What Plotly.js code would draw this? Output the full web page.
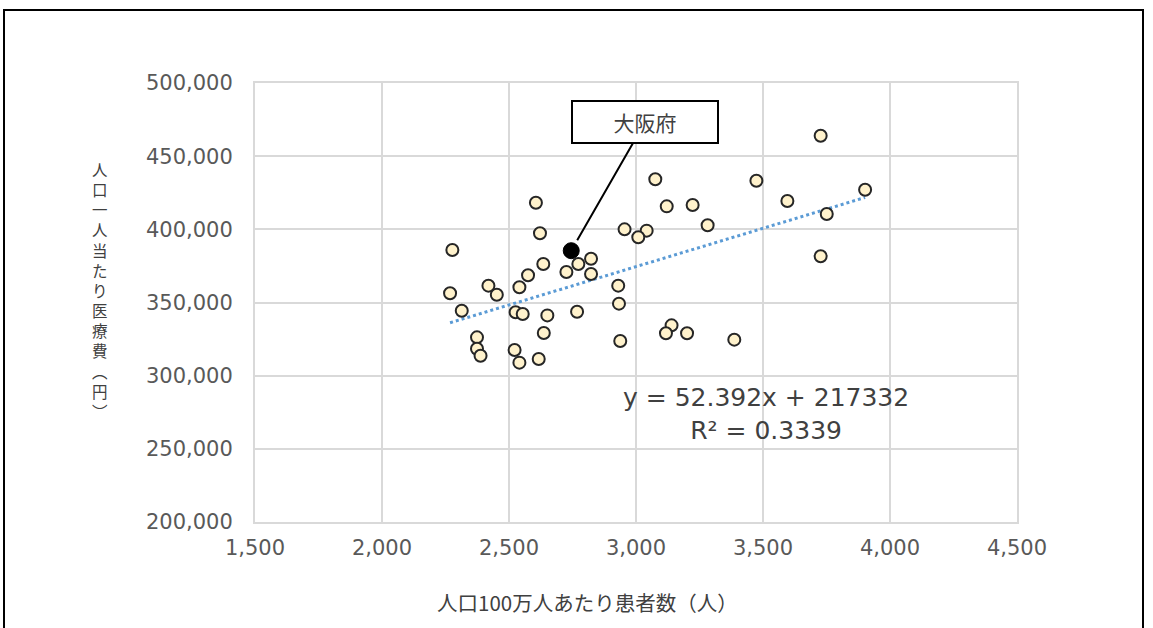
<!DOCTYPE html>
<html><head><meta charset="utf-8">
<script src="https://cdn.plot.ly/plotly-3.0.1.min.js"></script>
<style>
html,body{margin:0;padding:0;background:#fff;overflow:hidden}
#chart{position:absolute;left:0;top:0;width:1153px;height:628px}
#frame{position:absolute;left:3px;top:9px;width:1137px;height:640px;border:2px solid #000;pointer-events:none}
</style></head><body>
<div id="chart"></div><div id="frame"></div>
<script>
// 人口100万人あたり患者数（人）
const patients = [2606, 2622, 2277, 2635, 2773, 2823, 2726, 2823, 2575, 2541,
  2419, 2452, 2268, 2314, 2930, 2933, 2526, 2554, 2651, 2768,
  2637, 2374, 2374, 2388, 2522, 2541, 2617, 2938, 3727, 3076,
  3474, 3121, 3223, 3596, 3902, 3751, 3282, 2955, 3042, 3009,
  3727, 3140, 3118, 3201, 3387];
// 人口一人当たり医療費（円）
const costs = [418200, 397300, 385900, 376300, 376300, 379900, 370800, 369500, 368600, 360400,
  361500, 355300, 356300, 344400, 361500, 349200, 343300, 342100, 341200, 343700,
  329200, 326200, 318400, 313600, 317500, 308900, 311400, 323700, 464000, 434200,
  433200, 415700, 416600, 419400, 427100, 410500, 402800, 400000, 399100, 394600,
  381600, 334400, 329000, 329000, 324600];
const osakaName = ['大阪府'];
const osakaX = [2745];
const osakaY = [385400];
const slope = 52.392;
const intercept = 217332;
const r2 = 0.3339;
const xTickVals = [1500, 2000, 2500, 3000, 3500, 4000, 4500];
const yTickVals = [200000, 250000, 300000, 350000, 400000, 450000, 500000];
const xTitle = '人口100万人あたり患者数（人）';
// vertical writing: parentheses in their vertical presentation forms
const yTitle = '人口一人当たり医療費︵円︶';

const xMin = Math.min(...patients), xMax = Math.max(...patients);
const trendX = [xMin, xMax];
const trendY = trendX.map(v => slope * v + intercept);

const L = 255, R = 1017, T = 83, B = 522;
const px2x = p => (p - L) / (R - L);
const px2y = p => (B - p) / (B - T);

const traces = [
  {x: trendX, y: trendY, mode: 'lines', type: 'scatter', hoverinfo: 'skip',
   line: {color: '#5b9bd5', width: 3, dash: 'dot'}},
  {x: patients, y: costs, mode: 'markers', type: 'scatter',
   marker: {size: 12, color: '#fff2cc', line: {color: '#262626', width: 2}}},
  {x: osakaX, y: osakaY, mode: 'markers', type: 'scatter', text: osakaName,
   marker: {size: 16, color: '#000000', line: {color: '#000000', width: 1}}}
];

const annotations = [];
annotations.push({xref: 'paper', yref: 'paper', x: px2x(100), y: px2y(290),
  text: Array.from(yTitle).join('<br>'), showarrow: false, xanchor: 'center', yanchor: 'middle',
  align: 'center', font: {family: 'Noto Sans CJK JP', size: 15.5, color: '#404040'}});
annotations.push({xref: 'paper', yref: 'paper', x: px2x(587), y: px2y(602),
  text: xTitle, showarrow: false, xanchor: 'center', yanchor: 'middle',
  font: {family: 'Noto Sans CJK JP', size: 20.5, color: '#404040'}});
annotations.push({xref: 'paper', yref: 'paper', x: px2x(766), y: px2y(414),
  text: 'y = ' + slope + 'x + ' + intercept + '<br>R² = ' + r2, showarrow: false,
  xanchor: 'center', yanchor: 'middle', align: 'center',
  font: {family: 'DejaVu Sans', size: 25, color: '#404040'}});
annotations.push({x: osakaX[0], y: osakaY[0], xref: 'x', yref: 'y', text: osakaName[0],
  showarrow: true, arrowhead: 0, arrowwidth: 2, arrowcolor: '#000', standoff: 12,
  ax: 74, ay: -129, width: 144, height: 40, borderpad: 0, borderwidth: 2,
  bordercolor: '#000', bgcolor: '#fff',
  font: {family: 'Noto Sans CJK JP', size: 21, color: '#404040'}});

const axisCommon = {showgrid: true, gridcolor: '#d9d9d9', gridwidth: 2, zeroline: false,
  showline: true, mirror: true, linecolor: '#d9d9d9', linewidth: 2, ticks: '',
  tickfont: {family: 'DejaVu Sans', size: 21, color: '#595959'}, tickformat: ',d',
  fixedrange: true};

const layout = {
  width: 1153, height: 628, showlegend: false,
  margin: {l: L, r: 1153 - R, t: T, b: 628 - B},
  paper_bgcolor: '#ffffff', plot_bgcolor: '#ffffff',
  xaxis: Object.assign({}, axisCommon, {range: [1500, 4500], tickvals: xTickVals, ticklabelstandoff: 6}),
  yaxis: Object.assign({}, axisCommon, {range: [200000, 500000], tickvals: yTickVals, ticklabelstandoff: 16}),
  annotations: annotations
};
Plotly.newPlot('chart', traces, layout, {displayModeBar: false, staticPlot: true});
</script></body></html>
